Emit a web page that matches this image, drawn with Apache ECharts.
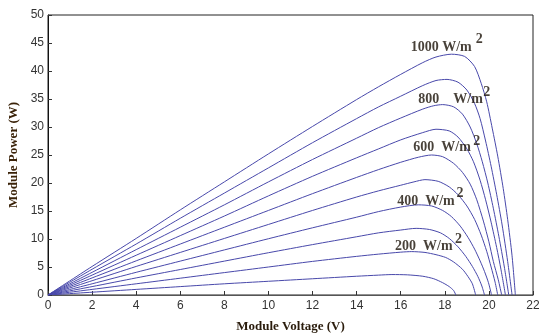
<!DOCTYPE html>
<html>
<head>
<meta charset="utf-8">
<title>Module P-V characteristics</title>
<script src="https://cdn.jsdelivr.net/npm/echarts@6/dist/echarts.min.js"></script>
<style>
  html, body { margin: 0; padding: 0; background: #ffffff; }
  #chart { width: 539px; height: 333px; }
</style>
</head>
<body>
<div id="chart"></div>
<script>
// Power vs. voltage of one PV module, one curve per irradiance level (W/m2)
const irradiance = [1000, 900, 800, 700, 600, 500, 400, 300, 200, 100];

// [voltage V, power W] pairs for each irradiance level
const p1000 = [[0,0],[2,5.1],[4,10.1],[6,15.2],[8,20.2],[10,25.2],[12,30.1],[14,34.9],[15,37.2],[16,39.4],[17,41.5],[17.6,42.5],[18.3,43.0],[18.9,42.6],[19.35,40.8],[19.65,37.8],[19.9,34.5],[20.15,29.8],[20.4,24.8],[20.65,19.0],[20.85,13.5],[21.05,7.0],[21.2,0]];
const p900 = [[0,0],[2,4.6],[4,9.1],[6,13.7],[8,18.2],[10,22.7],[12,27.2],[14,31.5],[15,33.6],[16,35.5],[17,37.4],[17.6,38.3],[18.1,38.5],[18.6,38.0],[19,36.6],[19.35,34.2],[19.6,31.5],[19.85,27.5],[20.1,23.0],[20.35,18.0],[20.6,12.5],[20.85,6.0],[21.05,0]];
const p800 = [[0,0],[2,4.05],[4,8.1],[6,12.1],[8,16.1],[10,20.2],[12,24.2],[14,28.0],[15,29.9],[16,31.6],[17,33.2],[17.5,33.8],[17.9,34.0],[18.4,33.6],[18.8,32.3],[19.15,30.0],[19.45,27.0],[19.7,23.8],[19.95,20.0],[20.2,15.5],[20.45,10.5],[20.7,5.0],[20.9,0]];
const p700 = [[0,0],[2,3.55],[4,7.1],[6,10.6],[8,14.1],[10,17.7],[12,21.2],[14,24.5],[15,26.1],[16,27.7],[17,29.0],[17.6,29.6],[18.2,29.3],[18.6,28.2],[19,26.1],[19.3,23.8],[19.6,20.5],[19.85,17.0],[20.1,13.0],[20.35,8.5],[20.55,4.5],[20.75,0]];
const p600 = [[0,0],[2,3.05],[4,6.1],[6,9.1],[8,12.1],[10,15.1],[12,18.1],[14,21.0],[15,22.4],[16,23.7],[16.8,24.6],[17.4,25.0],[17.9,24.7],[18.4,23.5],[18.8,21.9],[19.15,19.8],[19.45,17.0],[19.75,13.2],[20.0,9.5],[20.2,6.0],[20.42,2.8],[20.58,0]];
const p500 = [[0,0],[2,2.55],[4,5.1],[6,7.6],[8,10.1],[10,12.6],[12,15.1],[14,17.5],[15,18.6],[16,19.6],[16.6,20.2],[17.1,20.6],[17.7,20.3],[18.2,19.3],[18.6,17.9],[19.0,15.9],[19.35,13.5],[19.65,10.7],[19.9,7.8],[20.1,5.0],[20.28,2.3],[20.4,0]];
const p400 = [[0,0],[2,2.0],[4,4.05],[6,6.05],[8,8.05],[10,10.05],[12,12.0],[14,13.9],[15,14.9],[16,15.7],[16.8,16.1],[17.4,15.9],[17.9,15.1],[18.3,14.0],[18.7,12.3],[19.05,10.3],[19.35,8.2],[19.6,6.1],[19.8,4.2],[19.98,2.2],[20.12,0]];
const p300 = [[0,0],[2,1.5],[4,3.05],[6,4.55],[8,6.05],[10,7.55],[12,9.0],[14,10.4],[15,11.1],[16,11.6],[16.7,11.9],[17.3,11.7],[17.8,11.1],[18.2,10.1],[18.6,8.6],[18.95,6.9],[19.25,5.1],[19.5,3.3],[19.68,1.6],[19.8,0]];
const p200 = [[0,0],[2,1.0],[4,2.0],[6,3.0],[8,4.0],[10,5.0],[12,6.0],[14,6.9],[15,7.3],[16,7.65],[16.5,7.75],[17.1,7.6],[17.6,7.2],[18.04,6.7],[18.4,5.9],[18.8,4.6],[19.05,3.3],[19.25,2.0],[19.4,0]];
const p100 = [[0,0],[2,0.5],[4,1.0],[6,1.5],[8,2.0],[10,2.45],[12,2.9],[14,3.35],[15,3.55],[15.6,3.65],[16.3,3.6],[17,3.35],[17.5,2.9],[17.9,2.2],[18.2,1.5],[18.4,0.8],[18.5,0]];

const curves = [p1000, p900, p800, p700, p600, p500, p400, p300, p200, p100];

// Curve annotations: text, anchor [V, W] of text start, anchor of the superscript
const noteText = ['1000 W/m', '800    W/m', '600  W/m', '400  W/m', '200  W/m'];
const noteAt = [[16.45,44.3],[16.8,35.0],[16.57,26.3],[15.84,16.8],[15.74,8.7]];
const supAt = [[19.4,45.6],[19.74,36.2],[19.29,27.4],[18.53,18.2],[18.46,9.85]];

const serif = '"Liberation Serif", "Times New Roman", serif';
const sans = '"Liberation Sans", Arial, sans-serif';
const lineColor = '#4848aa';

const series = curves.map((pts, i) => ({
  name: irradiance[i] + ' W/m2',
  type: 'line',
  data: pts,
  smooth: 0.25,
  showSymbol: false,
  symbol: 'none',
  silent: true,
  clip: true,
  lineStyle: { color: lineColor, width: 1 }
}));

const noteLabel = (text, size) => ({
  show: true,
  formatter: text,
  position: [0, 0],
  align: 'left',
  verticalAlign: 'middle',
  fontFamily: serif,
  fontWeight: 'bold',
  fontSize: size,
  color: '#1a1208'
});

series.push({
  type: 'scatter',
  symbolSize: 0,
  silent: true,
  data: noteAt.map((p, i) => ({ value: p, label: noteLabel(noteText[i], 14) })),
  z: 5
});
series.push({
  type: 'scatter',
  symbolSize: 0,
  silent: true,
  data: supAt.map((p) => ({ value: p, label: noteLabel('2', 14) })),
  z: 5
});

const chart = echarts.init(document.getElementById('chart'), null, { renderer: 'canvas' });
chart.setOption({
  animation: false,
  backgroundColor: '#ffffff',
  grid: { left: 48, right: 6, top: 15, bottom: 38, containLabel: false,
          outerBoundsMode: 'none',
          show: true, borderColor: '#222222', borderWidth: 1 },
  xAxis: {
    type: 'value', min: 0, max: 22, interval: 2,
    name: 'Module Voltage (V)', nameLocation: 'middle', nameGap: 25,
    nameTextStyle: { fontFamily: serif, fontWeight: 'bold', fontSize: 13, color: '#2a1c0c' },
    axisLine: { show: true, lineStyle: { color: '#555555', width: 1 } },
    axisTick: { show: true, inside: true, length: 4, lineStyle: { color: '#333333' } },
    axisLabel: { fontFamily: sans, fontSize: 12, color: '#333333', margin: 5 },
    splitLine: { show: false }
  },
  yAxis: {
    type: 'value', min: 0, max: 50, interval: 5,
    name: 'Module Power (W)', nameLocation: 'middle', nameGap: 23,
    nameTextStyle: { fontFamily: serif, fontWeight: 'bold', fontSize: 13, color: '#3a2208' },
    axisLine: { show: true, lineStyle: { color: '#111111', width: 1 } },
    axisTick: { show: true, inside: true, length: 4, lineStyle: { color: '#333333' } },
    axisLabel: { fontFamily: sans, fontSize: 12, color: '#333333', margin: 4 },
    splitLine: { show: false }
  },
  series: series
});
</script>
</body>
</html>
